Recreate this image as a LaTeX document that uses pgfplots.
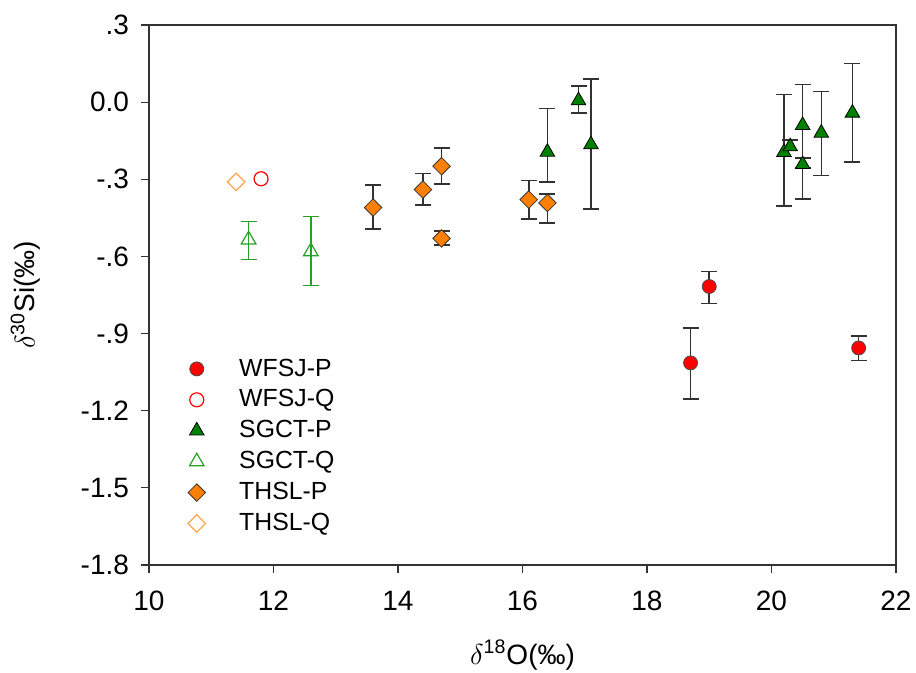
\documentclass[border=0pt]{standalone}
\usepackage{fontspec}
\setmainfont{Liberation Sans}
\usepackage{pgfplots}
\pgfplotsset{compat=1.18}
\usepackage{pgfplotstable}

\definecolor{sred}{RGB}{255,0,0}
\definecolor{sgreen}{RGB}{0,128,0}
\definecolor{sgreenq}{RGB}{40,160,40}
\definecolor{sorange}{RGB}{255,128,0}
\definecolor{sorangeq}{RGB}{255,165,80}
\definecolor{ebar}{RGB}{50,50,50}

% x y error+ error-
\pgfplotstableread{
x y ep em
18.7 -1.014 0.135 0.141
19.0 -0.717 0.059 0.066
21.4 -0.956 0.047 0.049
}\wfsjp
\pgfplotstableread{
x y
11.8 -0.298
}\wfsjq
\pgfplotstableread{
x y ep em
16.4 -0.194 0.169 0.116
16.9 0.006 0.056 0.049
17.1 -0.165 0.256 0.250
20.2 -0.195 0.225 0.210
20.3 -0.173 0.025 0.015
20.5 -0.090 0.158 0.286
20.5 -0.242 0.024 0.015
20.8 -0.120 0.162 0.166
21.3 -0.042 0.192 0.190
}\sgctp
\pgfplotstableread{
x y ep em
11.6 -0.535 0.071 0.078
12.6 -0.581 0.136 0.133
}\sgctq
\pgfplotstableread{
x y ep em
13.6 -0.410 0.087 0.083
14.4 -0.340 0.063 0.061
14.7 -0.249 0.070 0.069
14.7 -0.530 0.029 0.026
16.1 -0.379 0.074 0.075
16.4 -0.392 0.035 0.077
}\thslp
\pgfplotstableread{
x y
11.4 -0.310
}\thslq

\begin{document}
\begin{tikzpicture}
\begin{axis}[
  scale only axis,
  width=373.5pt, height=270pt,
  xmin=10, xmax=22, ymin=-1.8, ymax=0.3,
  xtick={10,12,14,16,18,20,22},
  xticklabels={10,12,14,16,18,20,22},
  ytick={-1.8,-1.5,-1.2,-0.9,-0.6,-0.3,0,0.3},
  yticklabels={-1.8,-1.5,-1.2,-.9,-.6,-.3,0.0,.3},
  tickpos=left, tick align=outside, major tick length=4pt,
  tick style={black!80, line width=0.6pt},
  axis line style={black!80, line width=0.6pt},
  ticklabel style={font=\fontsize{14}{16}\selectfont},
  xticklabel style={yshift=-5.5pt},
  yticklabel style={xshift=-2.5pt},
  xlabel={$\delta$\textsuperscript{18}O(‰)},
  ylabel={$\delta$\textsuperscript{30}Si(‰)},
  every axis x label/.style={at={(axis description cs:0.5,-0.1667)}, anchor=center,
    font=\fontsize{14}{16}\selectfont},
  every axis y label/.style={at={(axis description cs:-0.165,0.5)}, rotate=90, anchor=center,
    font=\fontsize{14}{16}\selectfont},
  legend style={draw=none, fill=none, at={(axis description cs:0.032,0.3975)},
    anchor=north west, font=\fontsize{12.4}{14}\selectfont, row sep=1.3pt},
  legend cell align=left,
  legend image code/.code={%
    \draw[#1] plot coordinates {(0.3cm,0cm)};
    \path (0cm,0cm) (0.6cm+10.5pt,0cm);},
  error bars/error bar style={ebar, line width=0.8pt},
  error bars/error mark options={rotate=90, ebar, mark size=4pt, line width=0.8pt},
]
\addplot[only marks, mark=*, mark size=3.5pt,
  mark options={fill=sred, draw=black!70, line width=0.4pt},
  error bars/.cd, y dir=both, y explicit]
  table[x=x, y=y, y error plus=ep, y error minus=em] {\wfsjp};
\addlegendentry{WFSJ-P}
\addplot[only marks, mark=o, mark size=3.5pt,
  mark options={draw=sred, line width=0.6pt}]
  table[x=x, y=y] {\wfsjq};
\addlegendentry{WFSJ-Q}
\addplot[only marks, mark=triangle*, mark size=4.2pt,
  mark options={fill=sgreen, draw=black, line width=0.4pt},
  error bars/.cd, y dir=both, y explicit]
  table[x=x, y=y, y error plus=ep, y error minus=em] {\sgctp};
\addlegendentry{SGCT-P}
\addplot[only marks, mark=triangle, mark size=4.2pt,
  mark options={draw=sgreenq, fill=white, line width=0.6pt},
  error bars/.cd, y dir=both, y explicit,
  error bar style={sgreenq, line width=0.7pt},
  error mark options={rotate=90, sgreenq, mark size=4pt, line width=0.7pt}]
  table[x=x, y=y, y error plus=ep, y error minus=em] {\sgctq};
\addlegendentry{SGCT-Q}
\addplot[only marks, mark=square*, mark size=3.1pt,
  mark options={rotate=45, fill=sorange, draw=black!80, line width=0.4pt},
  error bars/.cd, y dir=both, y explicit]
  table[x=x, y=y, y error plus=ep, y error minus=em] {\thslp};
\addlegendentry{THSL-P}
\addplot[only marks, mark=square, mark size=3.1pt,
  mark options={rotate=45, draw=sorangeq, line width=0.6pt}]
  table[x=x, y=y] {\thslq};
\addlegendentry{THSL-Q}
\end{axis}
\pgfresetboundingbox
\path[use as bounding box] (-74.5pt,-54pt) rectangle (383.5pt,282.5pt);
\end{tikzpicture}
\end{document}
